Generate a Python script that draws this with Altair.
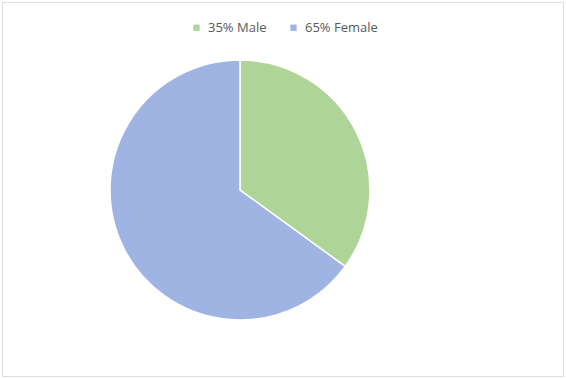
import altair as alt
import pandas as pd

names = ["Male", "Female"]
percents = [35, 65]
colors = ["#afd498", "#a0b4e3"]

labels = [f"{p}% {n}" for p, n in zip(percents, names)]
df = pd.DataFrame({"label": labels, "value": percents, "order": [0, 1]})

chart = alt.Chart(df).mark_arc(
    outerRadius=130, stroke="white", strokeWidth=1.5
).encode(
    theta=alt.Theta("value:Q", stack=True),
    order=alt.Order("order:Q"),
    color=alt.Color(
        "label:N",
        scale=alt.Scale(domain=labels, range=colors),
        sort=labels,
        legend=alt.Legend(
            title=None,
            orient="none",
            direction="horizontal",
            legendX=188,
            legendY=19,
            symbolType="square",
            symbolSize=40,
            symbolStrokeWidth=0,
            labelFont="Open Sans",
            labelFontSize=13,
            labelColor="#595959",
            columnPadding=20,
            labelOffset=5,
            padding=0,
        ),
    ),
    x=alt.value(238),
    y=alt.value(188),
).properties(
    width=561,
    height=374,
    padding={"left": 2, "top": 2, "right": 3, "bottom": 3},
    autosize=alt.AutoSizeParams(type="none"),
).configure_view(
    stroke="#d9d9d9", strokeWidth=1
).configure(background="white")

chart.save("out.html", embed_options={"renderer": "svg", "actions": False})
